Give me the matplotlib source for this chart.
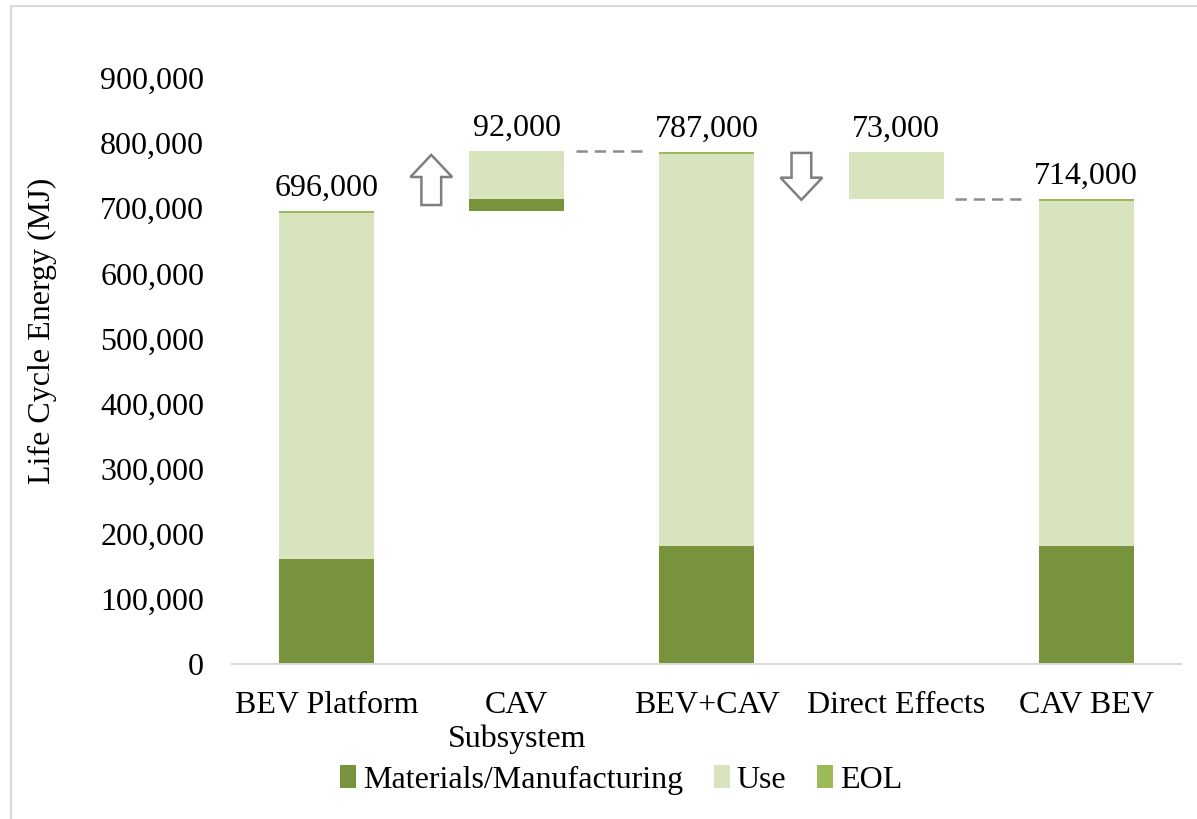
import matplotlib as mpl
mpl.use('Agg')

import matplotlib.pyplot as plt
import matplotlib.patches as patches
from matplotlib.ticker import FuncFormatter

plt.rcParams['font.family'] = ['Liberation Serif', 'DejaVu Serif']

MAT_COLOR = '#77933C'
USE_COLOR = '#D7E4BD'
EOL_COLOR = '#9BBB59'
ARROW_COLOR = '#7F7F7F'
DASH_COLOR = '#8C8C8C'
FS = 23

categories = ['BEV Platform', 'CAV\nSubsystem', 'BEV+CAV', 'Direct Effects', 'CAV BEV']
materials = [162000, 19000, 181000, 0, 181000]
use = [531000, 73000, 603000, 73000, 530000]
eol = [3000, 0, 3000, 0, 3000]
base = [0, 696000, 0, 714000, 0]
labels = ['696,000', '92,000', '787,000', '73,000', '714,000']

W, H = 1197, 819
fig = plt.figure(figsize=(W / 100, H / 100), dpi=100)

# chart area border (Excel style), runs off right and bottom
fig.add_artist(patches.Rectangle((11 / W, -0.5), 2, 1.5 - 6 / H, transform=fig.transFigure,
                                 fill=False, edgecolor='#D9D9D9', lw=1.5))

ax = fig.add_axes([232 / W, (H - 664.3) / H, (1181 - 232) / W, (664.3 - 78) / H])

x = list(range(len(categories)))
bw = 0.5
b1 = [b + m for b, m in zip(base, materials)]
b2 = [b + u for b, u in zip(b1, use)]
ax.bar(x, materials, bw, bottom=base, color=MAT_COLOR, label='Materials/Manufacturing')
ax.bar(x, use, bw, bottom=b1, color=USE_COLOR, label='Use')
ax.bar(x, eol, bw, bottom=b2, color=EOL_COLOR, label='EOL')

tops = [a + e for a, e in zip(b2, eol)]
for xi, t, lab in zip(x, tops, labels):
    ax.annotate(lab, (xi, t), xytext=(0, 11), textcoords='offset points',
                ha='center', va='baseline', fontsize=FS)

# dashed connectors between waterfall steps
for i, lvl in [(1, tops[1]), (3, base[3])]:
    ax.plot([i + bw / 2 + 0.06, i + 1 - bw / 2 - 0.09], [lvl, lvl], color=DASH_COLOR,
            lw=1.8, dashes=(4.5, 2.8))

# block arrows
def block_arrow(xc, y_tail, y_tip):
    hw, sw = 0.11, 0.052
    hl = 34000 if y_tip > y_tail else -34000
    yh = y_tip - hl
    pts = [(xc - sw, y_tail), (xc + sw, y_tail), (xc + sw, yh), (xc + hw, yh),
           (xc, y_tip), (xc - hw, yh), (xc - sw, yh)]
    ax.add_patch(patches.Polygon(pts, closed=True, facecolor='white',
                                 edgecolor=ARROW_COLOR, lw=1.8))

block_arrow(0.55, tops[0] + 9000, tops[2] - 5000)
block_arrow(2.5, tops[2] - 2000, tops[4] - 1000)

ax.set_xlim(-0.5, 4.5)
ax.set_ylim(0, 900000)
ax.set_yticks(range(0, 900001, 100000))
ax.yaxis.set_major_formatter(FuncFormatter(lambda v, p: f'{int(v):,}'))
ax.set_xticks(x)
ax.set_xticklabels(categories, linespacing=1.22)
ax.tick_params(axis='y', length=0, pad=20, labelsize=FS)
ax.tick_params(axis='x', length=0, pad=19, labelsize=FS)
for s in ['top', 'right', 'left']:
    ax.spines[s].set_visible(False)
ax.spines['bottom'].set_color('#D9D9D9')
ax.spines['bottom'].set_linewidth(1.5)

fig.text(42 / W, 1 - 331 / H, 'Life Cycle Energy (MJ)', rotation=90,
         ha='center', va='center', fontsize=FS)

fig.legend(loc='center', bbox_to_anchor=(621 / W, 1 - 780 / H), ncol=3, frameon=False,
           fontsize=FS, handlelength=0.5, handleheight=0.75, handletextpad=0.22,
           columnspacing=0.95)

fig.savefig('out.png', dpi=100, facecolor='white')
